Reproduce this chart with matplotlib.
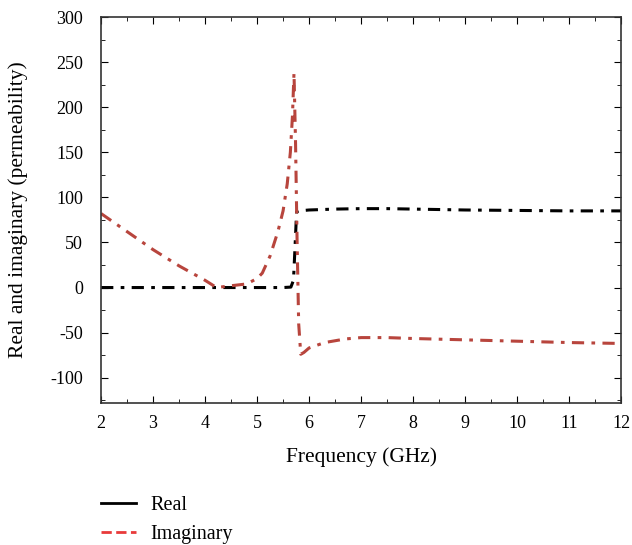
import matplotlib
matplotlib.use('Agg')
import matplotlib.pyplot as plt
from matplotlib.lines import Line2D
from matplotlib.ticker import MultipleLocator

plt.rcParams['font.family'] = ['Liberation Serif', 'DejaVu Serif']
plt.rcParams['axes.unicode_minus'] = False

# Real part of permeability
freq_re = [2, 3, 4, 5, 5.5, 5.65, 5.7, 5.73, 5.76, 5.8, 6, 6.5, 7, 7.5, 8, 9, 10, 11, 12]
real = [0, 0, 0, 0, 0, 0.5, 8, 45, 84, 85, 86, 87, 87.5, 87.5, 87, 86, 85.5, 85, 85]

# Imaginary part of permeability
freq_im = [2, 2.5, 3, 3.5, 4, 4.22, 4.5, 4.8, 5.0, 5.1, 5.25, 5.4, 5.5, 5.58, 5.64, 5.68, 5.71,
           5.74, 5.77, 5.8, 5.84, 5.9, 6.0, 6.3, 6.7, 7, 7.5, 8, 9, 10, 11, 12]
imag = [82, 62, 42, 24, 8, 0, 2, 4, 10, 16, 35, 62, 85, 115, 150, 190, 238,
        160, 50, -40, -74, -72, -67, -61, -57, -55.5, -55.5, -56.5, -58, -59.5, -61, -62]

dashdot = (0, (4, 2.4, 1.2, 2.4))

fig = plt.figure(figsize=(6.32, 5.45), dpi=100)
ax = fig.add_axes([0.16, 0.2606, 0.8226, 0.7082])

ax.plot(freq_re, real, color='black', linestyle=dashdot, linewidth=2.2)
ax.plot(freq_im, imag, color='#b8453d', linestyle=dashdot, linewidth=2.2)

ax.set_xlim(2, 12)
ax.set_ylim(-128, 300)
ax.xaxis.set_major_locator(MultipleLocator(1))
ax.xaxis.set_minor_locator(MultipleLocator(0.5))
ax.yaxis.set_major_locator(MultipleLocator(50))
ax.yaxis.set_minor_locator(MultipleLocator(25))
ax.tick_params(which='both', direction='in', top=True, right=True, labelsize=13)
ax.tick_params(axis='x', pad=9)
ax.tick_params(axis='y', pad=13)
ax.tick_params(which='major', length=5)
ax.tick_params(which='minor', length=3)
for s in ax.spines.values():
    s.set_linewidth(1.2)
    s.set_color('#333333')

ax.set_xlabel('Frequency (GHz)', fontsize=15.5, labelpad=11)
ax.set_ylabel('Real and imaginary (permeability)', fontsize=15.5, labelpad=16)

handles = [Line2D([], [], color='black', linestyle='-', linewidth=2),
           Line2D([], [], color='#e83a3a', linestyle='--', linewidth=2)]
fig.legend(handles, ['Real', 'Imaginary'], loc='upper left', bbox_to_anchor=(0.1305, 0.1235),
           frameon=False, fontsize=14.5, handlelength=1.75, handletextpad=0.7,
           labelspacing=0.5)

fig.savefig('out.png', dpi=100)
